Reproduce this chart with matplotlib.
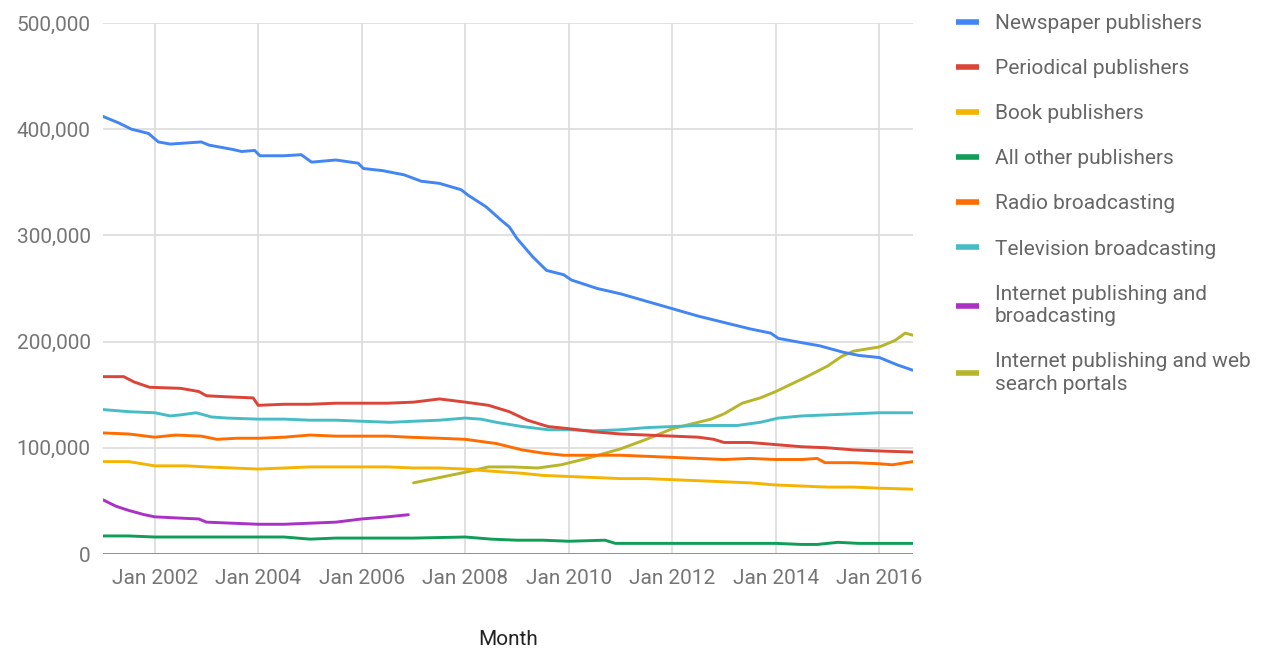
import matplotlib
matplotlib.use("Agg")
import matplotlib.pyplot as plt
from matplotlib.ticker import FuncFormatter
from matplotlib.lines import Line2D

plt.rcParams['font.family'] = ['Roboto', 'DejaVu Sans']

# Data: (decimal year, employees in thousands) #########################
news_t = [2001.0, 2001.3, 2001.55, 2001.88, 2002.07, 2002.3, 2002.6, 2002.9, 2003.05, 2003.5,
          2003.68, 2003.93, 2004.03, 2004.5, 2004.83, 2005.03, 2005.5, 2005.93, 2006.03, 2006.4,
          2006.82, 2007.15, 2007.5, 2007.92, 2008.05, 2008.4, 2008.7, 2008.85, 2009.0, 2009.3,
          2009.57, 2009.9, 2010.05, 2010.55, 2011.0, 2011.5, 2012.0, 2012.5, 2013.0, 2013.5,
          2013.9, 2014.05, 2014.5, 2014.85, 2015.3, 2015.6, 2016.0, 2016.35, 2016.65]
news_v = [412, 406, 400, 396, 388, 386, 387, 388, 385, 381,
          379, 380, 375, 375, 376, 369, 371, 368, 363, 361,
          357, 351, 349, 343, 338, 327, 314, 308, 297, 280,
          267, 263, 258, 250, 245, 238, 231, 224, 218, 212,
          208, 203, 199, 196, 190, 187, 185, 178, 173]

peri_t = [2001.0, 2001.4, 2001.6, 2001.9, 2002.5, 2002.85, 2003.0, 2003.4, 2003.9, 2004.0,
          2004.5, 2005.0, 2005.5, 2006.0, 2006.5, 2007.0, 2007.5, 2008.0, 2008.45, 2008.85,
          2009.2, 2009.6, 2010.0, 2010.5, 2011.0, 2011.5, 2012.0, 2012.5, 2012.8, 2013.0,
          2013.5, 2014.0, 2014.5, 2015.0, 2015.5, 2016.0, 2016.65]
peri_v = [167, 167, 162, 157, 156, 153, 149, 148, 147, 140,
          141, 141, 142, 142, 142, 143, 146, 143, 140, 134,
          126, 120, 118, 115, 113, 112, 111, 110, 108, 105,
          105, 103, 101, 100, 98, 97, 96]

tv_t = [2001.0, 2001.5, 2002.0, 2002.3, 2002.5, 2002.8, 2003.1, 2003.4, 2004.0, 2004.5,
        2005.0, 2005.5, 2006.0, 2006.55, 2007.0, 2007.5, 2008.0, 2008.3, 2008.6, 2009.1,
        2009.6, 2010.0, 2010.5, 2011.0, 2011.5, 2012.0, 2012.5, 2013.25, 2013.7, 2014.05,
        2014.5, 2015.0, 2015.5, 2016.0, 2016.65]
tv_v = [136, 134, 133, 130, 131, 133, 129, 128, 127, 127,
        126, 126, 125, 124, 125, 126, 128, 127, 124, 120,
        117, 117, 116, 117, 119, 120, 121, 121, 124, 128,
        130, 131, 132, 133, 133]

radio_t = [2001.0, 2001.5, 2002.0, 2002.4, 2002.9, 2003.2, 2003.6, 2004.0, 2004.5, 2005.0,
           2005.5, 2006.0, 2006.5, 2006.9, 2007.5, 2008.0, 2008.3, 2008.6, 2009.1, 2009.5,
           2009.9, 2010.5, 2011.0, 2011.5, 2012.0, 2012.5, 2013.0, 2013.5, 2014.0, 2014.5,
           2014.8, 2014.95, 2015.5, 2016.0, 2016.25, 2016.65]
radio_v = [114, 113, 110, 112, 111, 108, 109, 109, 110, 112,
           111, 111, 111, 110, 109, 108, 106, 104, 98, 95,
           93, 93, 93, 92, 91, 90, 89, 90, 89, 89,
           90, 86, 86, 85, 84, 87]

book_t = [2001.0, 2001.5, 2002.0, 2002.6, 2003.0, 2003.5, 2004.0, 2004.5, 2005.0, 2005.5,
          2006.0, 2006.5, 2007.0, 2007.5, 2008.0, 2008.5, 2009.1, 2009.5, 2010.0, 2010.5,
          2011.0, 2011.5, 2012.0, 2012.5, 2013.0, 2013.5, 2014.0, 2014.5, 2015.0, 2015.5,
          2016.0, 2016.65]
book_v = [87, 87, 83, 83, 82, 81, 80, 81, 82, 82,
          82, 82, 81, 81, 80, 78, 76, 74, 73, 72,
          71, 71, 70, 69, 68, 67, 65, 64, 63, 63,
          62, 61]

other_t = [2001.0, 2001.5, 2002.0, 2003.0, 2004.0, 2004.5, 2005.0, 2005.5, 2006.0, 2006.5,
           2007.0, 2008.0, 2008.5, 2009.0, 2009.5, 2010.0, 2010.7, 2010.9, 2011.5, 2012.0,
           2013.0, 2014.0, 2014.5, 2014.8, 2015.2, 2015.6, 2016.0, 2016.65]
other_v = [17, 17, 16, 16, 16, 16, 14, 15, 15, 15,
           15, 16, 14, 13, 13, 12, 13, 10, 10, 10,
           10, 10, 9, 9, 11, 10, 10, 10]

inet_t = [2001.0, 2001.25, 2001.5, 2001.8, 2002.0, 2002.4, 2002.85, 2003.0, 2003.5, 2004.0,
          2004.5, 2005.0, 2005.5, 2006.0, 2006.5, 2006.9]
inet_v = [51, 45, 41, 37, 35, 34, 33, 30, 29, 28,
          28, 29, 30, 33, 35, 37]

web_t = [2007.0, 2007.5, 2008.0, 2008.45, 2008.9, 2009.4, 2009.85, 2010.35, 2011.0, 2011.5,
         2012.0, 2012.5, 2012.75, 2013.0, 2013.35, 2013.7, 2014.0, 2014.3, 2014.6, 2015.0,
         2015.27, 2015.5, 2016.0, 2016.3, 2016.5, 2016.65]
web_v = [67, 72, 77, 82, 82, 81, 84, 90, 99, 108,
         118, 124, 127, 132, 142, 147, 153, 160, 167, 177,
         186, 191, 195, 201, 208, 206]

labels = ["Newspaper publishers", "Periodical publishers", "Book publishers",
          "All other publishers", "Radio broadcasting", "Television broadcasting",
          "Internet publishing and\nbroadcasting",
          "Internet publishing and web\nsearch portals"]
colors = ["#4285f4", "#db4437", "#f4b400", "#0f9d58", "#ff6d00", "#46bdc6",
          "#ab30c4", "#b7b52a"]
series = [(news_t, news_v), (peri_t, peri_v), (book_t, book_v), (other_t, other_v),
          (radio_t, radio_v), (tv_t, tv_v), (inet_t, inet_v), (web_t, web_v)]

xticks = list(range(2002, 2017, 2))
xtick_labels = ["Jan %d" % y for y in xticks]
yticks = [0, 100000, 200000, 300000, 400000, 500000]

FS = 15

# Figure ################################################################
fig = plt.figure(figsize=(12.77, 6.48), dpi=100)
ax = fig.add_axes([103/1277, 1-554/648, (913-103)/1277, (554-23)/648])

# draw in reverse so first series ends on top, like the original
for (t, v), c in reversed(list(zip(series, colors))):
    ax.plot(t, [x*1000 for x in v], color=c, lw=2.1, solid_capstyle='round', solid_joinstyle='round')

ax.set_xlim(news_t[0], news_t[-1])
ax.set_ylim(0, 500000)
ax.set_xticks(xticks)
ax.set_xticklabels(xtick_labels)
ax.set_yticks(yticks)
ax.yaxis.set_major_formatter(FuncFormatter(lambda v, p: "{:,}".format(int(v))))
ax.grid(True, color="#dcdcdc", lw=1.2)
ax.set_axisbelow(True)
for s in ax.spines.values():
    s.set_visible(False)
ax.axhline(0, color="#888888", lw=2, zorder=1)
ax.tick_params(length=0, labelsize=FS, colors="#757575")
ax.tick_params(axis='y', pad=9)
ax.tick_params(axis='x', pad=11)
ax.set_xlabel("Month", fontsize=FS, color="#222222", labelpad=30)

handles = [Line2D([], [], color=c, lw=4, solid_capstyle='butt') for c in colors]
leg = fig.legend(handles, labels, loc='upper left', bbox_to_anchor=(948/1277, 1-6/648),
                 frameon=False, fontsize=FS, handlelength=1.1, handletextpad=0.75,
                 labelspacing=1.25, borderaxespad=0)
for txt in leg.get_texts():
    txt.set_color("#666666")
    txt.set_linespacing(1.25)

fig.savefig("out.png", dpi=100)
